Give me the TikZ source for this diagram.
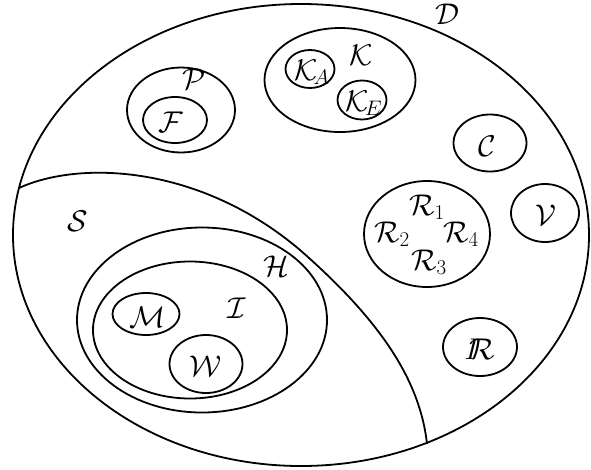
\documentclass[tikz,border=0pt]{standalone}
\usepackage{fix-cm}
\usetikzlibrary{shapes.geometric}
\begin{document}
\begin{tikzpicture}[x=1pt,y=-1pt,line width=1.8pt,
  set/.style={draw,ellipse,inner sep=0pt},
  lab/.style={inner sep=0pt,font=\fontsize{30}{36}\selectfont}]
\useasboundingbox (0,0) rectangle (591,469);
% outer D
\node[set,minimum width=576,minimum height=462] (D) at (301,235) {};
\node[lab] (Dl) at (447,14) {$\mathcal{D}$};
% S boundary
\coordinate (s1) at (19,188);
\coordinate (s2) at (427,444);
\draw (s1) .. controls (80,160) and (200,165) .. (300,250) .. controls (380,320) and (420,380) .. (s2);
\node[lab] (Sl) at (78,221) {$\mathcal{S}$};
% H, I, M, W
\node[set,minimum width=250,minimum height=185] (H) at (202,320) {};
\node[lab] (Hl) at (276,266) {$\mathcal{H}$};
\node[set,minimum width=194,minimum height=137] (I) at (190,330) {};
\node[lab] (Il) at (237,308) {$\mathcal{I}$};
\node[set,minimum width=67,minimum height=42] (M) at (146,314) {};
\node[lab] (Ml) at (148,317) {$\mathcal{M}$};
\node[set,minimum width=73,minimum height=58] (W) at (206,364) {};
\node[lab] (Wl) at (206,366) {$\mathcal{W}$};
% P, F
\node[set,minimum width=108,minimum height=85] (P) at (181,110) {};
\node[lab] (Pl) at (194,79) {$\mathcal{P}$};
\node[set,minimum width=64,minimum height=46] (F) at (175,120) {};
\node[lab] (Fl) at (171,122) {$\mathcal{F}$};
% K
\node[set,minimum width=151,minimum height=104] (K) at (340,80) {};
\node[lab] (Kl) at (361,55) {$\mathcal{K}$};
\node[set,minimum width=49,minimum height=38] (KA) at (310,69) {};
\node[lab] (KAl) at (312,72) {$\mathcal{K}_{\!A}$};
\node[set,minimum width=49,minimum height=39] (KE) at (362,100) {};
\node[lab] (KEl) at (364,103) {$\mathcal{K}_{\!E}$};
% C, V
\node[set,minimum width=73,minimum height=57] (C) at (490,143) {};
\node[lab] (Cl) at (487,146) {$\mathcal{C}$};
\node[set,minimum width=68,minimum height=58] (V) at (545,213) {};
\node[lab] (Vl) at (546,215) {$\mathcal{V}$};
% R group
\node[set,minimum width=126,minimum height=106] (R) at (427,234) {};
\node[lab] (R1) at (427,207) {$\mathcal{R}_1$};
\node[lab] (R2) at (392,234) {$\mathcal{R}_2$};
\node[lab] (R4) at (461,234) {$\mathcal{R}_4$};
\node[lab] (R3) at (429,262) {$\mathcal{R}_3$};
% IR
\node[set,minimum width=74,minimum height=58] (IR) at (480,347) {};
\node[lab] (IRl) at (480,349) {$I\mkern-6mu\mathcal{R}$};
\end{tikzpicture}
\end{document}
